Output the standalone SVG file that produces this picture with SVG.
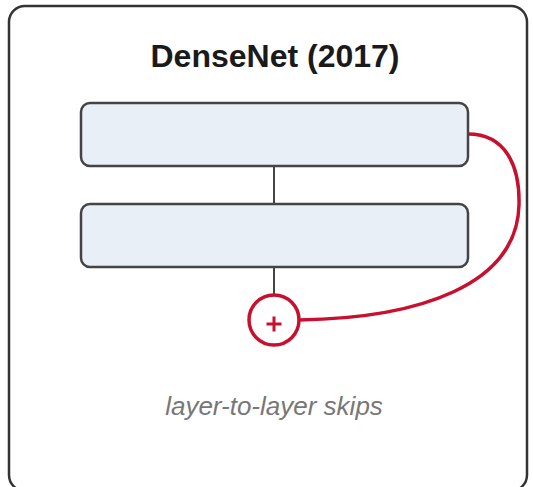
<svg xmlns="http://www.w3.org/2000/svg" width="533" height="487" viewBox="0 0 533 487">
<style>
.frame{fill:#fff;stroke:#333;stroke-width:2.5}
.blk{fill:#e8eff7;stroke:#444;stroke-width:2.5}
.ln{stroke:#444;stroke-width:2;fill:none}
.skip{stroke:#c8102e;stroke-width:3.5;fill:none}
.title{font-family:"Liberation Sans",Arial,sans-serif;font-weight:bold;font-size:32px;fill:#1a1a1a}
.cap{font-family:"Liberation Sans",Arial,sans-serif;font-style:italic;font-size:26px;fill:#777}
</style>
<rect width="533" height="487" fill="#fff"/>
<g id="frame"><rect class="frame" x="9" y="6" width="518" height="485" rx="16"/></g>
<text class="title" x="275" y="67" text-anchor="middle">DenseNet (2017)</text>
<g id="connectors">
<line class="ln" x1="274" y1="166" x2="274" y2="204"/>
<line class="ln" x1="274" y1="267" x2="274" y2="295"/>
<path class="skip" d="M468,134 C505,134 520,165 519,205 C517,285 420,318 299,320"/>
</g>
<g id="layer1"><rect class="blk" x="81" y="103" width="387" height="63" rx="9"/></g>
<g id="layer2"><rect class="blk" x="81" y="204" width="387" height="63" rx="9"/></g>
<g id="sum"><circle cx="274" cy="320" r="25" fill="#fff" stroke="#c8102e" stroke-width="3.5"/>
<path d="M266.5,324 H281.5 M274,316.5 V331.5" stroke="#c8102e" stroke-width="3"/></g>
<text class="cap" x="274" y="415" text-anchor="middle">layer-to-layer skips</text>
</svg>
